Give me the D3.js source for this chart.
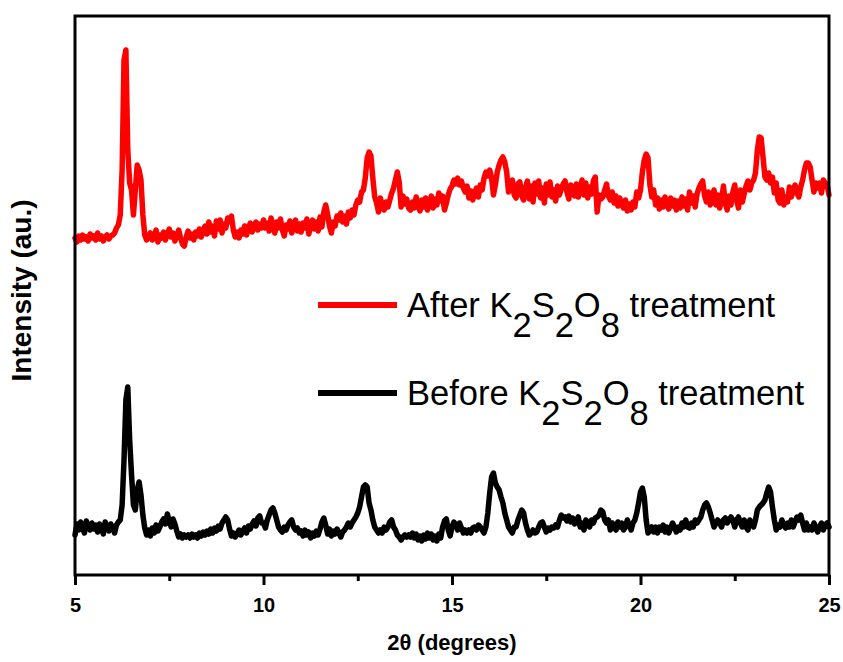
<!DOCTYPE html>
<html>
<head>
<meta charset="utf-8">
<script src="https://cdn.jsdelivr.net/npm/d3@7"></script>
<style>
  html, body { margin: 0; padding: 0; background: #fff; }
  svg { display: block; font-family: "Liberation Sans", Arial, sans-serif; }
</style>
</head>
<body>
<svg id="chart" width="843" height="662"></svg>
<script>
// XRD patterns, 2θ from 5° to 25° in 0.05° steps (401 points per pattern).
// Intensities are in arbitrary units; the treated sample is plotted with a vertical offset.
const thetaStart = 5, thetaStep = 0.05;

const afterIntensity = [
  // 5.00 – 5.95
  337,333,339,335,340,336,338,334,341,337,339,335,342,336,339,334,338,340,336,339,
  // 6.00 – 6.95
  340,342,347,350,360,405,515,525,425,392,385,360,385,410,405,395,360,340,335,339,
  // 7.00 – 7.95
  342,335,339,345,333,340,337,343,335,341,346,338,342,334,339,345,337,331,329,338,
  // 8.00 – 8.95
  344,337,341,335,343,339,346,338,344,349,341,353,343,349,339,354,346,355,342,351,
  // 9.00 – 9.95
  347,357,353,359,345,338,343,337,345,341,349,340,347,352,343,349,353,345,351,347,
  // 10.00 – 10.95
  355,347,352,344,357,349,342,353,347,356,345,339,350,346,354,342,349,355,344,351,
  // 11.00 – 11.95
  343,352,347,356,341,349,355,346,353,344,358,348,363,370,361,349,342,353,349,359,
  // 12.00 – 12.95
  355,362,353,359,351,363,357,365,360,370,375,373,383,385,397,417,423,419,397,378,
  // 13.00 – 13.95
  372,363,377,369,365,373,368,375,382,387,395,403,393,368,379,371,376,367,365,373,
  // 14.00 – 14.95
  367,378,370,364,375,368,377,365,373,379,367,376,370,382,374,379,365,372,380,386,
  // 15.00 – 15.95
  389,395,391,397,390,394,387,383,389,377,384,375,382,387,378,390,385,397,403,399,
  // 16.00 – 16.95
  405,397,380,390,403,410,415,418,413,403,383,390,395,380,377,391,393,379,375,388,
  // 17.00 – 17.95
  394,376,389,373,392,381,394,377,387,372,391,380,393,378,385,374,389,380,386,391,
  // 18.00 – 18.95
  394,383,376,390,385,379,391,378,386,395,380,392,377,388,381,394,398,363,380,376,
  // 19.00 – 19.95
  378,385,391,379,375,383,372,379,369,377,371,367,375,364,371,365,373,368,383,377,
  // 20.00 – 20.95
  385,403,415,421,417,390,378,385,370,377,366,375,368,378,371,366,377,369,375,365,
  // 21.00 – 21.95
  374,367,378,369,376,365,383,372,379,368,381,387,391,394,379,373,383,370,377,385,
  // 22.00 – 22.95
  370,380,367,375,389,372,365,379,370,383,390,375,367,385,373,381,389,394,385,392,
  // 23.00 – 23.95
  395,402,425,438,437,418,398,395,402,392,398,382,392,375,372,385,370,378,373,388,
  // 24.00 – 25.00
  378,385,390,382,378,388,395,405,412,412,408,395,383,392,387,392,382,395,392,390,380
];

const beforeIntensity = [
  // 5.00 – 5.95
  40,51,45,53,47,42,54,49,45,52,46,50,43,51,47,41,53,48,44,51,
  // 6.00 – 6.95
  47,42,50,53,55,70,115,175,188,135,100,70,65,85,93,80,60,47,40,45,
  // 7.00 – 7.95
  39,47,42,50,44,48,53,56,51,61,54,48,56,51,44,38,41,37,40,38,
  // 8.00 – 8.95
  40,37,41,38,40,37,42,39,43,40,44,41,46,42,47,44,49,46,52,55,
  // 9.00 – 9.95
  58,55,46,39,42,38,41,45,40,44,47,42,49,46,51,54,49,57,59,52,
  // 10.00 – 10.95
  52,47,55,60,65,67,62,55,48,45,43,48,45,50,53,55,48,45,47,42,
  // 11.00 – 11.95
  44,39,45,40,43,37,42,39,44,40,46,53,57,50,41,46,39,44,41,46,
  // 12.00 – 12.95
  42,38,43,45,48,52,48,52,55,58,62,68,78,88,90,88,72,65,55,48,
  // 13.00 – 13.95
  45,42,45,42,48,45,48,53,55,48,45,40,38,35,38,40,38,40,38,42,
  // 14.00 – 14.95
  37,41,35,39,34,40,36,42,37,41,35,39,34,41,37,48,54,56,45,39,
  // 15.00 – 15.95
  48,53,50,45,52,47,42,45,42,45,42,47,48,45,50,48,45,42,48,62,
  // 16.00 – 16.95
  82,98,102,92,88,85,78,72,62,55,48,45,42,48,48,55,60,65,62,52,
  // 17.00 – 17.95
  45,40,42,45,42,43,48,52,53,48,43,47,45,48,47,50,48,55,60,57,
  // 18.00 – 18.95
  58,54,59,53,57,51,55,58,48,52,45,55,52,48,55,52,57,58,60,65,
  // 19.00 – 19.95
  63,55,52,55,45,52,48,45,53,48,52,45,48,55,50,45,52,55,62,72,
  // 20.00 – 20.95
  83,87,78,55,42,45,48,43,48,42,48,45,50,43,48,42,47,52,48,43,
  // 21.00 – 21.95
  48,45,52,48,55,48,47,52,48,55,52,55,58,65,70,72,68,62,55,48,
  // 22.00 – 22.95
  52,55,52,48,55,57,52,55,58,55,48,55,58,52,48,55,48,45,55,52,
  // 23.00 – 23.95
  48,55,65,68,70,72,75,82,88,83,68,55,45,50,48,55,50,47,52,48,
  // 24.00 – 25.00
  55,48,53,58,55,60,52,45,52,45,48,45,52,48,43,48,52,45,50,52,48
];

const xDomain = [5, 25];
const yDomain = [0, 559];
const majorTicks = [5, 10, 15, 20, 25];
const minorTicks = [7.5, 12.5, 17.5, 22.5];

const seriesNames = ["After", "Before"];
const seriesColors = ["#ff0000", "#000000"];

const margin = { left: 75, right: 14, top: 16, bottom: 87 };
const width = 843, height = 662;
const innerW = width - margin.left - margin.right;
const innerH = height - margin.top - margin.bottom;

const svg = d3.select("#chart");
const g = svg.append("g").attr("transform", `translate(${margin.left},${margin.top})`);

const x = d3.scaleLinear().domain(xDomain).range([0, innerW]);
const y = d3.scaleLinear().domain(yDomain).range([innerH, 0]);

const toPoints = arr => arr.map((v, i) => [thetaStart + i * thetaStep, v]);

const line = d3.line()
  .x(d => x(d[0]))
  .y(d => y(d[1]))
  .curve(d3.curveLinear);

// patterns
[afterIntensity, beforeIntensity].forEach((arr, k) => {
  g.append("path")
    .datum(toPoints(arr))
    .attr("fill", "none")
    .attr("stroke", seriesColors[k])
    .attr("stroke-width", 5.5)
    .attr("stroke-linejoin", "round")
    .attr("stroke-linecap", "round")
    .attr("d", line);
});

// frame
g.append("rect")
  .attr("x", 0).attr("y", 0)
  .attr("width", innerW).attr("height", innerH)
  .attr("fill", "none")
  .attr("stroke", "#000")
  .attr("stroke-width", 3);

// x axis: major ticks with labels, minor ticks without
const xAxis = d3.axisBottom(x)
  .tickValues(majorTicks)
  .tickSize(10)
  .tickPadding(13)
  .tickFormat(d3.format("d"));
const ax = g.append("g").attr("transform", `translate(0,${innerH})`).call(xAxis);
ax.select(".domain").remove();
ax.selectAll(".tick line").attr("stroke", "#000").attr("stroke-width", 3);
ax.selectAll(".tick text")
  .attr("fill", "#000")
  .style("font-size", "20px")
  .style("font-weight", "bold")
  .style("font-family", "'Liberation Sans', Arial, sans-serif");

const xMinor = d3.axisBottom(x).tickValues(minorTicks).tickSize(6).tickFormat("");
const axm = g.append("g").attr("transform", `translate(0,${innerH})`).call(xMinor);
axm.select(".domain").remove();
axm.selectAll(".tick line").attr("stroke", "#000").attr("stroke-width", 3);

// axis titles
svg.append("text")
  .attr("x", margin.left + innerW / 2)
  .attr("y", 650)
  .attr("text-anchor", "middle")
  .style("font-size", "22px")
  .style("font-weight", "bold")
  .text("2θ (degrees)");

svg.append("text")
  .attr("transform", `translate(31,${margin.top + innerH / 2 - 5}) rotate(-90)`)
  .attr("text-anchor", "middle")
  .style("font-size", "28px")
  .style("font-weight", "bold")
  .text("Intensity (au.)");

// legend
const legendRows = [
  { name: seriesNames[0], color: seriesColors[0], baseline: 317 },
  { name: seriesNames[1], color: seriesColors[1], baseline: 405 }
];
legendRows.forEach(r => {
  svg.append("line")
    .attr("x1", 318).attr("x2", 397)
    .attr("y1", r.baseline - 12).attr("y2", r.baseline - 12)
    .attr("stroke", r.color)
    .attr("stroke-width", 6);
  const t = svg.append("text")
    .attr("x", 407)
    .attr("y", r.baseline)
    .style("font-size", "34.5px")
    .attr("fill", "#000");
  t.append("tspan").text(r.name + " K");
  t.append("tspan").attr("dy", 20).text("2");
  t.append("tspan").attr("dy", -20).text("S");
  t.append("tspan").attr("dy", 20).text("2");
  t.append("tspan").attr("dy", -20).text("O");
  t.append("tspan").attr("dy", 20).text("8");
  t.append("tspan").attr("dy", -20).text(" treatment");
});
</script>
</body>
</html>
